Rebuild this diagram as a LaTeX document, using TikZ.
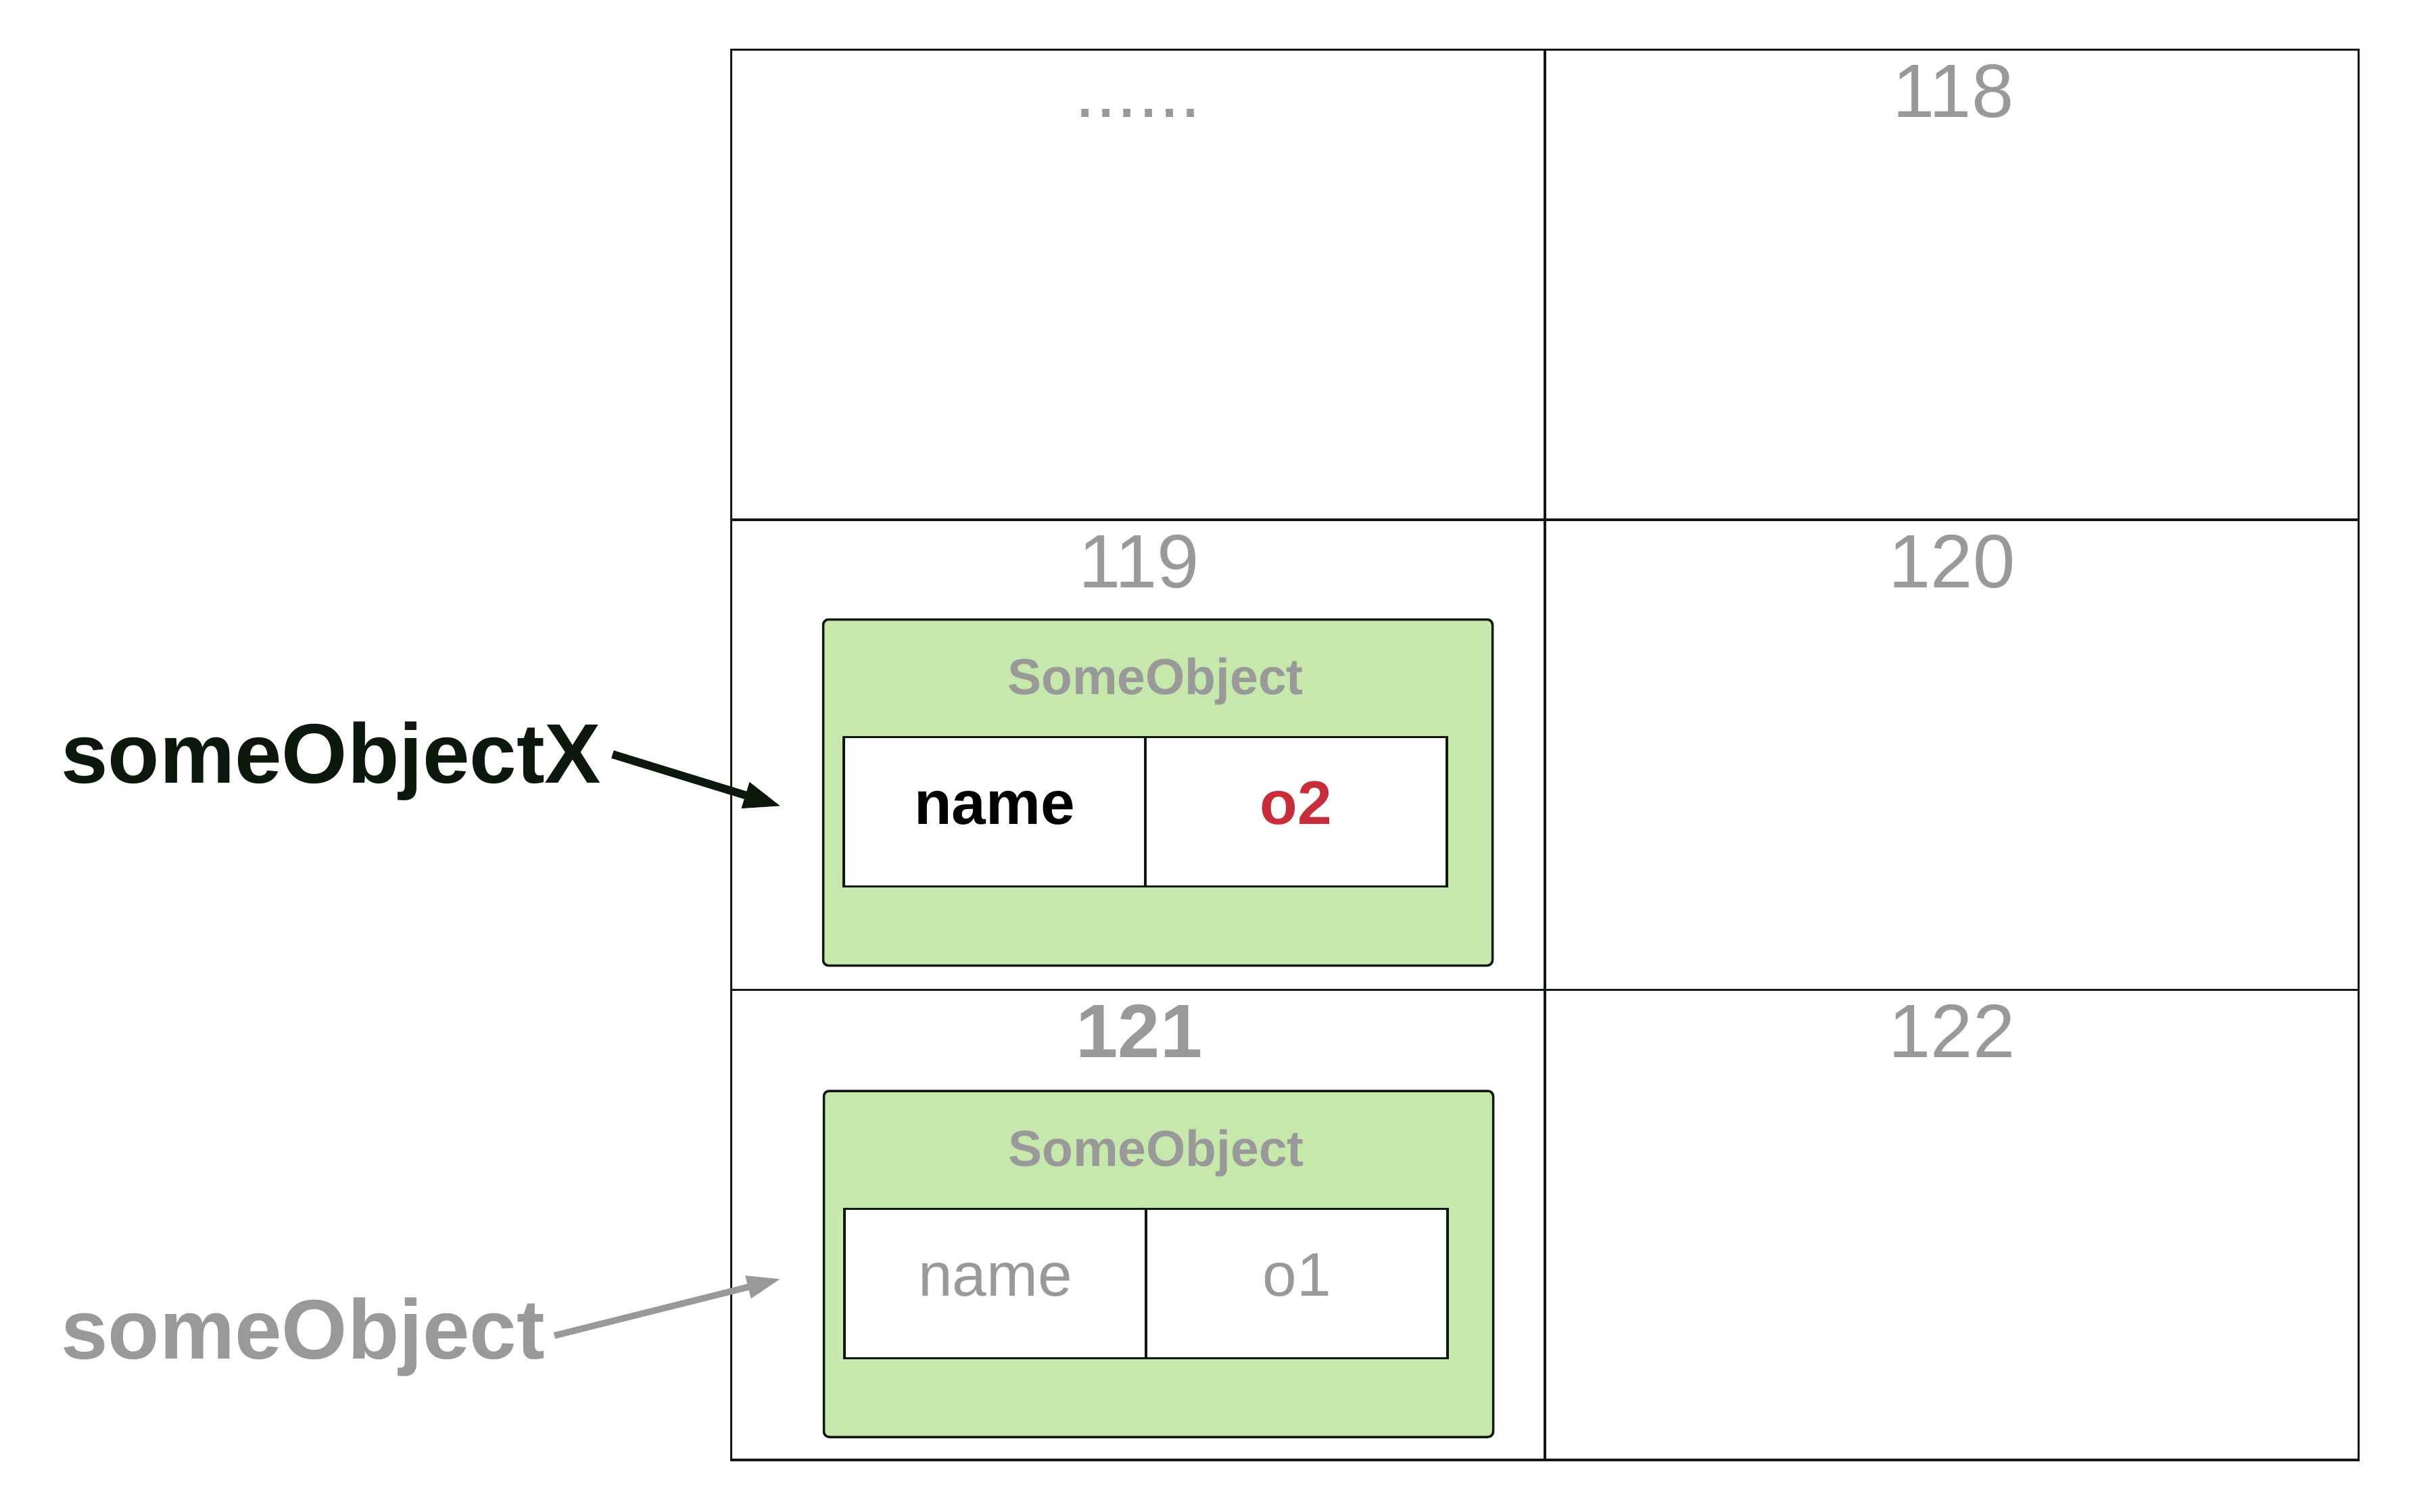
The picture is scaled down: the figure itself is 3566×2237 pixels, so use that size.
\documentclass[tikz,border=0pt]{standalone}
\usepackage{fontspec}
\setmainfont{Liberation Sans}
\usetikzlibrary{arrows.meta}
\definecolor{gridcol}{RGB}{14,24,14}
\definecolor{txtgray}{RGB}{153,153,153}
\definecolor{objgreen}{RGB}{199,232,172}
\definecolor{valred}{RGB}{200,45,59}
\definecolor{lbldark}{RGB}{11,24,11}
\tikzset{
  memcell/.style={draw=gridcol, line width=1.75pt, minimum width=601.75pt, minimum height=347.75pt, inner sep=0pt},
  addr/.style={inner sep=0pt, anchor=base, text=txtgray, font=\fontsize{56}{60}\selectfont},
  objbox/.style={draw=gridcol, fill=objgreen, line width=1.75pt, rounded corners=4pt, minimum width=495pt, minimum height=256pt, inner sep=0pt},
  objtitle/.style={inner sep=0pt, anchor=base, text=txtgray, font=\fontsize{37.5}{40}\selectfont\bfseries},
  fieldcell/.style={draw=gridcol, fill=white, line width=1.75pt, minimum width=223pt, minimum height=110.5pt, inner sep=0pt},
  fieldtxt/.style={inner sep=0pt, anchor=base, font=\fontsize{45.5}{48}\selectfont},
  fieldbold/.style={inner sep=0pt, anchor=base, font=\fontsize{45.5}{48}\selectfont\bfseries},
  varlbl/.style={inner sep=0pt, anchor=base west, font=\fontsize{62.5}{66}\selectfont\bfseries},
}
\begin{document}
\begin{tikzpicture}[x=0.5pt, y=-0.5pt]
\useasboundingbox (0,0) rectangle (3566,2237);
% memory cells
\node[memcell] (m117) at (1683,421.25) {};
\node[memcell] (m118) at (2886.5,421.25) {};
\node[memcell] (m119) at (1683,1116.75) {};
\node[memcell] (m120) at (2886.5,1116.75) {};
\node[memcell] (m121) at (1683,1812.25) {};
\node[memcell] (m122) at (2886.5,1812.25) {};
% addresses
\node[addr] (a117) at (1683,173) {......};
\node[addr] (a118) at (2889,174) {118};
\node[addr] (a119) at (1685,869.5) {119};
\node[addr] (a120) at (2887,869.5) {120};
\node[addr, font=\fontsize{56}{60}\selectfont\bfseries] (a121) at (1685,1564) {121};
\node[addr] (a122) at (2887,1564) {122};
% object o2
\node[objbox] (obj2) at (1712.5,1172.5) {};
\node[objtitle] (t2) at (1709,1027) {SomeObject};
\node[fieldcell] (f2k) at (1471,1201) {};
\node[fieldcell] (f2v) at (1917,1201) {};
\node[fieldbold] (k2) at (f2k.center |- 0,1219.5) {name};
\node[fieldbold, text=valred] (v2) at (f2v.center |- 0,1219.5) {o2};
% object o1
\node[objbox] (obj1) at (1713.5,1870) {};
\node[objtitle] (t1) at (1710,1725) {SomeObject};
\node[fieldcell] (f1k) at (1472,1899) {};
\node[fieldcell] (f1v) at (1918,1899) {};
\node[fieldtxt, text=txtgray] (k1) at (f1k.center |- 0,1917) {name};
\node[fieldtxt, text=txtgray] (v1) at (f1v.center |- 0,1917) {o1};
% variables
\node[varlbl, text=lbldark] (vx) at (90,1158) {someObjectX};
\node[varlbl, text=txtgray] (vo) at (90,2010) {someObject};
\coordinate (vxs) at (906,1116);
\coordinate (vxt) at (1156,1193);
\coordinate (vos) at (820,1976);
\coordinate (vot) at (1155,1892);
\draw[lbldark, line width=6pt, -{Triangle[length=28pt,width=18.5pt]}] (vxs) -- (vxt);
\draw[txtgray, line width=4.8pt, -{Triangle[length=25pt,width=16pt]}] (vos) -- (vot);
\end{tikzpicture}
\end{document}
